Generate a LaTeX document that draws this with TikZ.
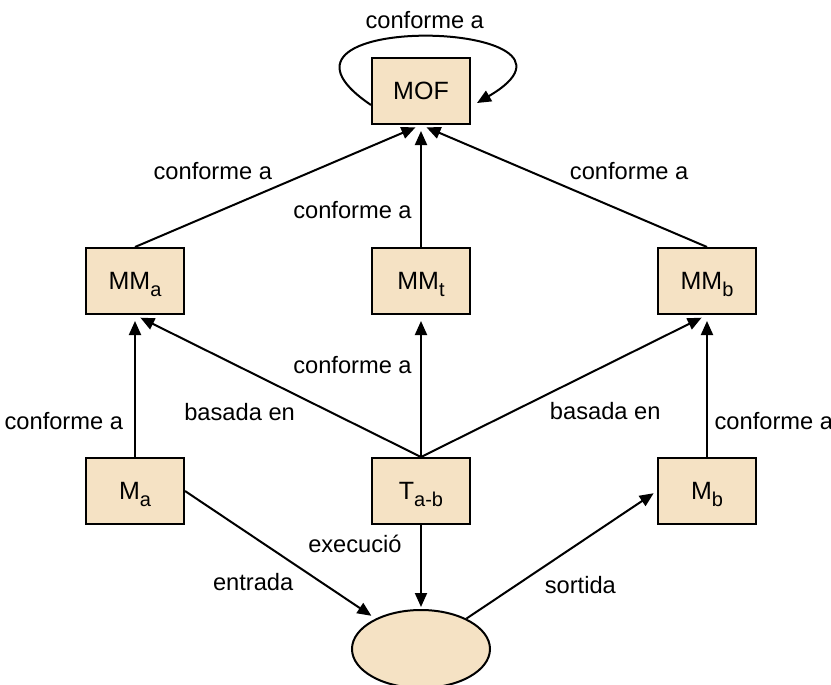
\documentclass[tikz,border=0pt]{standalone}
\usepackage{fontspec}
\setmainfont{Liberation Sans}
\usepackage{xcolor}
\usepackage{tikz}
\definecolor{modelfill}{RGB}{245, 226, 196}
\usetikzlibrary{shapes.geometric,arrows.meta,positioning}
\newcommand{\lowsub}[1]{\raisebox{-4pt}{\fontsize{12}{13}\selectfont #1}}

\begin{document}
\begin{tikzpicture}[
    every node/.style={font=\fontsize{14.2}{17}\selectfont, inner sep=3pt},
    model/.style={draw, line width=1.2pt, fill=modelfill, minimum width=58.8pt, minimum height=39.6pt, inner sep=0pt, font=\fontsize{15}{18}\selectfont, text height=10.7pt, text depth=0pt},
    engine/.style={ellipse, draw, line width=1.2pt, fill=modelfill, minimum width=82.8pt, minimum height=46.8pt, inner sep=0pt},
    arrow/.style={-{Triangle[length=8.4pt,width=7.2pt]}, line width=1.2pt, shorten >=3.6pt}
]
    \useasboundingbox (-252.6pt,54.6pt) rectangle (246pt,-355.8pt);

    % Meta-metamodel
    \node[model] (mof) {MOF};

    % Metamodels
    \node[model, below=73.2pt of mof] (mmt) {MM\lowsub{t}};
    \node[model, left=111.6pt of mmt] (mma) {MM\lowsub{a}};
    \node[model, right=111.6pt of mmt] (mmb) {MM\lowsub{b}};

    % Models and transformation
    \node[model, below=85.2pt of mmt] (tab) {T\lowsub{a-b}};
    \node[model, left=111.6pt of tab] (ma) {M\lowsub{a}};
    \node[model, right=111.6pt of tab] (mb) {M\lowsub{b}};

    % Transformation engine
    \node[engine, below=50.4pt of tab] (exec) {};

    % MOF conforms to itself
    \draw[arrow, shorten >=0pt] ([yshift=-8.4pt]mof.west) .. controls +(-85.2pt,57.6pt) and +(86.4pt,50.4pt) .. ([xshift=3.6pt,yshift=-7.2pt]mof.east) node[pos=0.5, above=1pt] (loop-label) {conforme a};

    % Metamodels conform to MOF
    \draw[arrow] (mma.north) -- node[pos=0.5, anchor=south east] {conforme a} (mof.south);
    \draw[arrow] (mmt.north) -- node[pos=0.3, left=2pt] {conforme a} (mof.south);
    \draw[arrow] (mmb.north) -- node[pos=0.5, anchor=south west] {conforme a} (mof.south);

    % Models conform to metamodels
    \draw[arrow] (ma.north) -- node[pos=0.25, left=3.6pt] {conforme a} (mma.south);
    \draw[arrow] (tab.north) -- node[pos=0.65, left=2pt] {conforme a} (mmt.south);
    \draw[arrow] (mb.north) -- node[pos=0.25, right=1pt] {conforme a} (mmb.south);

    % Transformation based on source and target metamodels
    \draw[arrow] (tab.north) -- node[pos=0.42, anchor=north east] {basada en} (mma.south);
    \draw[arrow] (tab.north) -- node[pos=0.43, anchor=north west] {basada en} (mmb.south);

    % Execution
    \draw[arrow, shorten >=1.2pt] (tab.south) -- node[pos=0.22, left=8pt] {execució} (exec);
    \draw[arrow, shorten >=3pt] (ma.east) -- node[pos=0.6, anchor=north east] {entrada} (exec);
    \draw[arrow, shorten >=2.4pt] (exec) -- node[pos=0.38, anchor=north west] {sortida} (mb.west);
\end{tikzpicture}
\end{document}
